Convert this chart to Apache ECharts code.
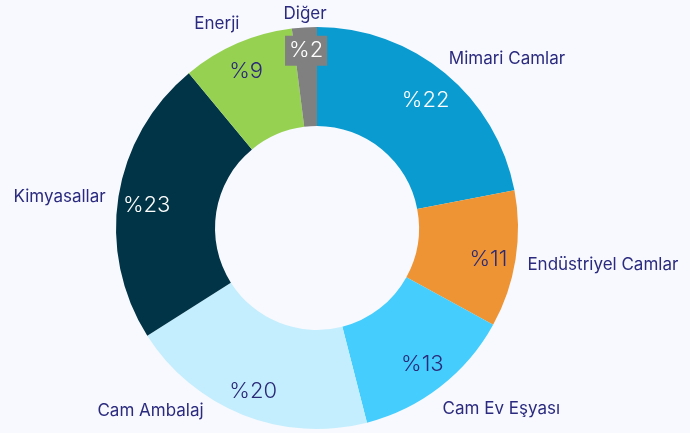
<!DOCTYPE html>
<html>
<head>
<meta charset="utf-8">
<script src="https://cdn.jsdelivr.net/npm/echarts@6/dist/echarts.min.js"></script>
<style>
  html, body { margin: 0; padding: 0; background: #f7f9fe; }
  #chart { width: 690px; height: 433px; }
</style>
</head>
<body>
<div id="chart"></div>
<script>
const categories = ["Mimari Camlar", "Endüstriyel Camlar", "Cam Ev Eşyası", "Cam Ambalaj", "Kimyasallar", "Enerji", "Diğer"];
const shares = [22, 11, 13, 20, 23, 9, 2];
const colors = ["#0a9bd0", "#ee9434", "#44cdfd", "#c4eefd", "#023447", "#96d152", "#808080"];
const innerTextColors = ["#ffffff", "#2b2a78", "#2b2a78", "#2b2a78", "#ffffff", "#2b2a78", "#ffffff"];

// small nudges so the labels sit where the original put them
const nameNudge = [[-9, -5], [-5, 4], [-10, 13], [-30, -15], [4, 2], [12, -9], [28, -2]];
const pctNudge = [[-2, 6], [0, 4], [-1, -1], [0, 2], [1, 5], [-2, 3], [0, -4]];

const chart = echarts.init(document.getElementById("chart"));

const option = {
  backgroundColor: "#f7f9fe",
  textStyle: { fontFamily: "Inter" },
  series: [
    {
      // outer names
      type: "pie",
      center: [317, 228],
      radius: [102, 201],
      startAngle: 90,
      avoidLabelOverlap: false,
      silent: true,
      label: {
        show: true,
        position: "outside",
        formatter: "{b}",
        color: "#2b2a7f",
        fontSize: 17,
        fontFamily: "Inter"
      },
      labelLine: { show: false, length: 12, length2: 0 },
      labelLayout: function (p) {
        const n = nameNudge[p.dataIndex];
        return { dx: n[0], dy: n[1] };
      },
      data: categories.map((name, i) => ({
        name: name,
        value: shares[i],
        itemStyle: { color: colors[i] }
      }))
    },
    {
      // percent labels on the ring
      type: "pie",
      center: [317, 228],
      radius: [140, 201],
      startAngle: 90,
      silent: true,
      label: {
        show: true,
        position: "inside",
        formatter: "%{c}",
        fontSize: 22,
        fontWeight: 300,
        fontFamily: "Inter"
      },
      labelLine: { show: false },
      labelLayout: function (p) {
        const n = pctNudge[p.dataIndex];
        return { dx: n[0], dy: n[1] };
      },
      itemStyle: { color: "transparent" },
      data: categories.map((name, i) => ({
        name: name,
        value: shares[i],
        label: i === 6
          ? { color: innerTextColors[i], backgroundColor: "#808080", padding: [4, 4, 4, 4] }
          : { color: innerTextColors[i] }
      }))
    }
  ]
};

chart.setOption(option);
</script>
</body>
</html>
